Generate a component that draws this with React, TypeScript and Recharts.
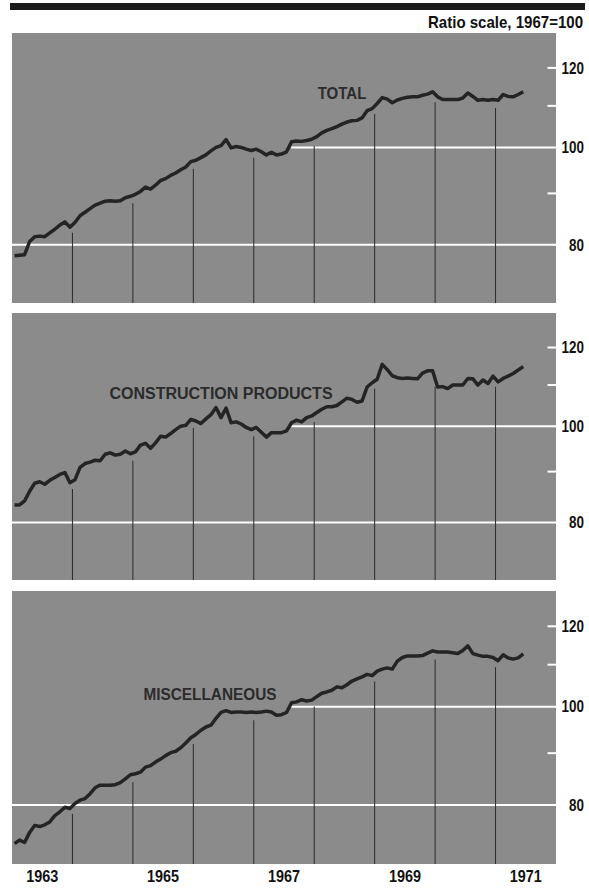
import React from 'react';
import { LineChart, Line, XAxis, YAxis, CartesianGrid, ReferenceLine } from 'recharts';

// monthly index values, Jan 1963 - Jun 1971 (1967=100)
const totalValues = [
  78.0, 78.1, 78.2, 80.6, 81.5, 81.6, 81.5, 82.2, 82.9, 83.7, 84.3, 83.3,
  84.2, 85.5, 86.2, 86.9, 87.6, 88.0, 88.4, 88.5, 88.4, 88.5, 89.1, 89.4,
  89.8, 90.4, 91.3, 90.9, 91.7, 92.7, 93.1, 93.8, 94.3, 95.0, 95.6, 96.8,
  97.1, 97.7, 98.3, 99.2, 100.0, 100.4, 101.8, 99.9, 100.2, 100.0, 99.6, 99.3,
  99.6, 99.0, 98.3, 98.9, 98.3, 98.5, 99.0, 101.3, 101.5, 101.4, 101.6, 101.9,
  102.5, 103.4, 104.0, 104.4, 104.9, 105.5, 106.0, 106.3, 106.4, 107.0, 108.8, 109.3,
  110.6, 112.1, 111.7, 110.8, 111.5, 111.9, 112.2, 112.3, 112.3, 112.7, 113.0, 113.6,
  112.3, 111.6, 111.6, 111.6, 111.6, 112.0, 113.3, 112.4, 111.4, 111.6, 111.4, 111.6,
  111.4, 112.9, 112.4, 112.3, 112.9, 113.6,
];

const constructionValues = [
  83.3, 83.3, 84.1, 86.0, 87.6, 87.9, 87.4, 88.2, 88.8, 89.4, 89.8, 87.7,
  88.3, 90.9, 91.7, 92.0, 92.4, 92.3, 93.7, 94.0, 93.5, 93.7, 94.4, 93.8,
  94.2, 95.7, 96.1, 95.0, 96.2, 97.7, 97.5, 98.3, 99.2, 100.0, 100.2, 101.6,
  101.2, 100.6, 101.7, 102.7, 104.4, 102.0, 104.3, 100.8, 101.0, 100.5, 99.7, 99.2,
  99.7, 98.6, 97.5, 98.5, 98.5, 98.5, 98.9, 100.8, 101.4, 101.0, 102.0, 102.4,
  103.2, 104.0, 104.6, 104.6, 104.9, 105.8, 106.7, 106.4, 105.7, 106.0, 109.5, 110.6,
  111.5, 115.4, 114.0, 112.4, 111.9, 111.7, 111.8, 111.7, 111.6, 113.1, 113.7, 113.7,
  109.5, 109.6, 109.1, 110.0, 110.0, 110.0, 111.7, 111.6, 110.0, 111.3, 110.4, 112.3,
  110.8, 111.7, 112.3, 113.0, 113.9, 114.8,
];

const miscValues = [
  73.3, 73.9, 73.5, 75.2, 76.4, 76.2, 76.5, 77.0, 78.1, 78.8, 79.6, 79.4,
  80.3, 80.9, 81.2, 82.1, 83.2, 83.7, 83.7, 83.7, 83.8, 84.2, 84.9, 85.7,
  85.9, 86.2, 87.2, 87.5, 88.2, 88.8, 89.5, 90.1, 90.4, 91.1, 92.1, 93.2,
  93.9, 94.8, 95.5, 95.9, 97.4, 98.7, 99.1, 98.7, 98.8, 98.8, 98.7, 98.8,
  98.7, 98.8, 99.0, 98.8, 98.1, 98.2, 98.7, 100.9, 101.1, 101.6, 101.3, 101.5,
  102.3, 103.1, 103.4, 103.8, 104.6, 104.4, 105.1, 106.0, 106.5, 107.0, 107.6, 107.3,
  108.4, 108.9, 109.2, 108.9, 110.9, 111.8, 112.2, 112.2, 112.2, 112.3, 112.9, 113.5,
  113.2, 113.2, 113.2, 113.0, 112.8, 113.6, 114.8, 112.8, 112.4, 112.1, 112.1, 111.8,
  111.0, 112.5, 111.7, 111.4, 111.7, 112.7,
];

// mid-month positions on a year axis
const months = totalValues.map((_, i) => 1963 + (i + 0.5) / 12);
const yearBoundaries = [1964, 1965, 1966, 1967, 1968, 1969, 1970, 1971];
const yearLabels = [1963.5, 1965.5, 1967.5, 1969.5, 1971.5];
const yTicks = [80, 100, 120];
const minorTicks = [90, 110, 120];

const GRAY = '#8b8b8b';
const FONT = "'Liberation Sans', Arial, sans-serif";
const numStyle = { fill: '#111', fontSize: 16, fontWeight: 700, fontFamily: FONT };

// the print uses a condensed face, so squeeze horizontally
const YTick = (props: any) => {
  const { x, y, payload } = props;
  return (
    <g transform={`translate(${x},${y})`}>
      <text transform="scale(0.84,1)" dy="0.36em" textAnchor="end" style={numStyle}>
        {payload.value}
      </text>
    </g>
  );
};

const XTick = (props: any) => {
  const { x, y, payload } = props;
  return (
    <g transform={`translate(${x},${y})`}>
      <text transform="scale(0.9,1)" dy="0.75em" textAnchor="middle" style={numStyle}>
        {Math.floor(payload.value)}
      </text>
    </g>
  );
};

// where the year rule stops, just under the curve
const boundaryTop = (vals: number[], year: number) => {
  const i = (year - 1963) * 12;
  return ((vals[i - 1] + vals[i]) / 2) * 0.982;
};

interface PanelProps {
  top: number;
  height: number;
  values: number[];
  showX?: boolean;
}

const Panel = ({ top, height, values, showX = false }: PanelProps) => {
  const data = months.map((t, i) => ({ t, v: values[i] }));
  const h = height + (showX ? 24 : 0);
  return (
    <div style={{ position: 'absolute', left: 0, top, width: 589, height: h }}>
      <LineChart width={589} height={h} data={data} margin={{ top: 0, right: 0, bottom: 0, left: 12 }}>
        <CartesianGrid fill={GRAY} fillOpacity={1} horizontal={false} vertical={false} />
        <XAxis
          type="number"
          dataKey="t"
          domain={[1963, 1972]}
          ticks={yearLabels}
          hide={!showX}
          height={24}
          axisLine={false}
          tickLine={false}
          tickSize={0}
          tickMargin={6}
          interval={0}
          tick={<XTick />}
          allowDataOverflow
        />
        <YAxis
          orientation="right"
          scale="log"
          domain={[70, 130]}
          ticks={yTicks}
          width={33}
          axisLine={false}
          tickLine={false}
          tickSize={0}
          tickMargin={28}
          interval={0}
          tick={<YTick />}
          allowDataOverflow
        />
        <ReferenceLine y={80} stroke="#fff" strokeWidth={2} />
        <ReferenceLine
          segment={[{ x: 1967.62, y: 100 }, { x: 1972, y: 100 }]}
          stroke="#fff"
          strokeWidth={2}
        />
        {minorTicks.map((y) => (
          <ReferenceLine
            key={`m${y}`}
            segment={[{ x: 1971.86, y }, { x: 1972, y }]}
            stroke="#fff"
            strokeWidth={2}
          />
        ))}
        {yearBoundaries.map((yr) => (
          <ReferenceLine
            key={yr}
            segment={[{ x: yr, y: 70 }, { x: yr, y: boundaryTop(values, yr) }]}
            stroke="#2a2a2a"
            strokeWidth={1}
            ifOverflow="hidden"
          />
        ))}
        <Line
          type="linear"
          dataKey="v"
          stroke="#242424"
          strokeWidth={3.5}
          strokeLinejoin="round"
          dot={false}
          isAnimationActive={false}
        />
      </LineChart>
    </div>
  );
};

const labelStyle = { fontFamily: FONT, fontWeight: 700, fontSize: 16, fill: '#2b2b2b' };

export default function App() {
  return (
    <div style={{ position: 'absolute', left: 0, top: 0, width: 589, height: 888, background: '#fff', overflow: 'hidden' }}>
      <Panel top={33} height={270} values={totalValues} />
      <Panel top={313} height={267} values={constructionValues} />
      <Panel top={591} height={273} values={miscValues} showX />
      <svg width={589} height={888} style={{ position: 'absolute', left: 0, top: 0, pointerEvents: 'none' }}>
        <rect x={10} y={3} width={575} height={7} fill="#1c1c1c" />
        <g transform="translate(583,28)">
          <text transform="scale(0.94,1)" textAnchor="end" style={numStyle}>
            Ratio scale, 1967=100
          </text>
        </g>
        <g transform="translate(342,99)">
          <text transform="scale(0.94,1)" textAnchor="middle" style={labelStyle}>TOTAL</text>
        </g>
        <g transform="translate(221,398.5)">
          <text textAnchor="middle" style={labelStyle}>CONSTRUCTION PRODUCTS</text>
        </g>
        <g transform="translate(210,700)">
          <text transform="scale(0.96,1)" textAnchor="middle" style={labelStyle}>MISCELLANEOUS</text>
        </g>
      </svg>
    </div>
  );
}
